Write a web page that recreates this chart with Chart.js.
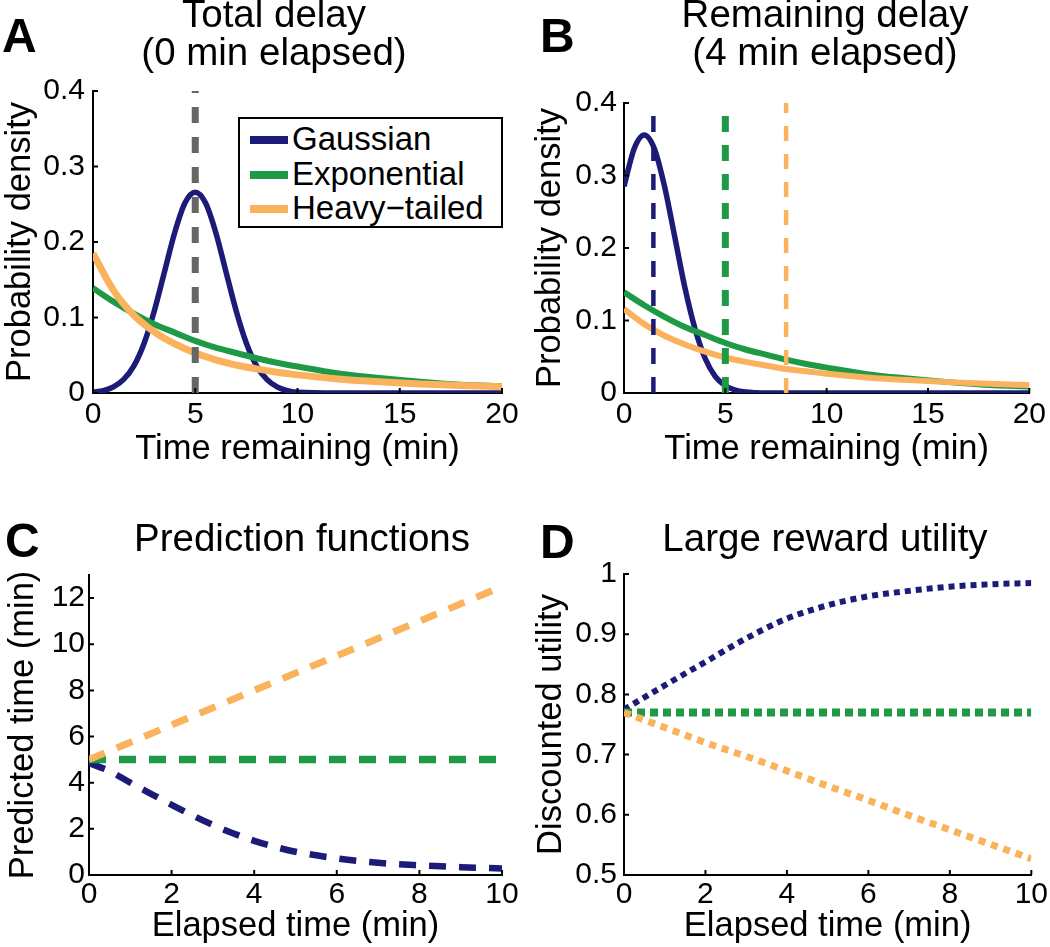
<!DOCTYPE html>
<html lang="en">
<head>
<meta charset="UTF-8">
<title>Delay distributions</title>
<script src="https://cdn.jsdelivr.net/npm/chart.js"></script>
<style>
  * { box-sizing: border-box; margin: 0; padding: 0; }
  body { background: #fff; font-family: 'Liberation Sans', Arial, sans-serif; color: #000; }
  .fig { position: relative; width: 1050px; height: 947px; overflow: hidden; }
  canvas { position: absolute; }
  .letter { position: absolute; font-weight: bold; font-size: 48px; line-height: 48px; }
  .title { position: absolute; width: 440px; text-align: center; font-size: 38.5px; line-height: 38px; white-space: nowrap; }
  .legend { position: absolute; left: 238px; top: 117px; width: 265px; height: 111px; border: 2px solid #000; background: #fff; }
  .legend .sw { position: absolute; left: 10px; width: 38px; height: 8px; }
  .legend .lb { position: absolute; left: 52px; font-size: 33px; line-height: 32px; white-space: nowrap; }
</style>
</head>
<body>
<div class="fig">
  <canvas id="chartA" width="525" height="470" style="left:0;top:0"></canvas>
  <canvas id="chartB" width="525" height="470" style="left:525px;top:0"></canvas>
  <canvas id="chartC" width="525" height="477" style="left:0;top:470px"></canvas>
  <canvas id="chartD" width="525" height="477" style="left:525px;top:470px"></canvas>

  <div class="letter" style="left:2px;top:12px">A</div>
  <div class="letter" style="left:540px;top:12px">B</div>
  <div class="letter" style="left:5px;top:517px">C</div>
  <div class="letter" style="left:540px;top:518px">D</div>

  <div class="title" style="left:54px;top:-5px">Total delay<br>(0 min elapsed)</div>
  <div class="title" style="left:605px;top:-5px">Remaining delay<br>(4 min elapsed)</div>
  <div class="title" style="left:82px;top:519px">Prediction functions</div>
  <div class="title" style="left:605px;top:519px">Large reward utility</div>

  <div class="legend" id="legendA"></div>
</div>
<script>
// ---- data ----
const names = ['Gaussian', 'Exponential', 'Heavy−tailed'];
const colors = ['#1c1c78', '#1e9a46', '#fbb25c'];
const grey = '#666666';

// panel A: total delay densities
const timeGaussA = [0,0.5,1,1.5,2,2.5,3,3.5,4,4.5,5,5.5,6,6.5,7,7.5,8,8.5,9,9.5,10,12,14,16,18,20];
const gaussA = [0.001,0.003,0.008,0.018,0.036,0.066,0.109,0.161,0.213,0.252,0.266,0.252,0.213,0.161,0.109,0.066,0.036,0.018,0.008,0.003,0.001,0,0,0,0,0];
const timeTail = [0,1,2,3,4,5,6,7,8,9,10,12,14,16,18,20];
const expoA = [0.139,0.121,0.105,0.091,0.080,0.069,0.060,0.053,0.046,0.040,0.035,0.026,0.020,0.015,0.011,0.009];
const heavyA = [0.185,0.136,0.103,0.081,0.065,0.053,0.044,0.037,0.032,0.0275,0.024,0.0186,0.0148,0.012,0.010,0.0083];
const medianA = 5;

// panel B: remaining delay densities after 4 min
const timeGaussB = [0,0.5,1,1.5,2,2.5,3,3.5,4,4.5,5,5.5,6,6.5,7,10,15,20];
const gaussB = [0.285,0.337,0.356,0.337,0.285,0.216,0.146,0.089,0.048,0.023,0.010,0.004,0.0014,0.0004,0,0,0,0];
const expoB = [0.139,0.121,0.105,0.091,0.080,0.069,0.060,0.053,0.046,0.040,0.035,0.026,0.020,0.015,0.011,0.009];
const heavyB = [0.116,0.095,0.079,0.067,0.057,0.049,0.043,0.038,0.033,0.030,0.0265,0.0215,0.0178,0.015,0.0127,0.0109];
const mediansB = [1.45, 5, 8];

// panel C: predicted remaining time vs elapsed time
const timeGaussC = [0,0.5,1,1.5,2,2.5,3,3.5,4,4.5,5,6,7,8,9,10];
const gaussC = [4.85,4.5,4.0,3.52,3.04,2.59,2.17,1.8,1.48,1.22,1.01,0.72,0.53,0.42,0.34,0.28];
const timeLine = [0, 10];
const expoC = [5, 5];
const heavyC = [5.0, 12.5];

// panel D: discounted utility vs elapsed time
const timeD = [0,1,2,3,4,5,6,7,8,9,10];
const gaussD = [0.775,0.815,0.854,0.893,0.926,0.948,0.963,0.972,0.979,0.983,0.985];
const expoD = [0.77,0.77,0.77,0.77,0.77,0.77,0.77,0.77,0.77,0.77,0.77];
const heavyD = [0.77,0.745,0.72,0.697,0.673,0.648,0.624,0.599,0.575,0.551,0.527];

// ticks
const xTicksAB = [0,5,10,15,20];
const yTicksAB = [0,0.1,0.2,0.3,0.4];
const xTicksCD = [0,2,4,6,8,10];
const yTicksC = [0,2,4,6,8,10,12];
const yTicksD = [0.5,0.6,0.7,0.8,0.9,1];

// ---- helpers ----
Chart.defaults.font.family = "'Liberation Sans', Arial, sans-serif";
Chart.defaults.color = '#000';

const pts = (xs, ys) => xs.map((x, i) => ({x: x, y: ys[i]}));

function curve(xs, ys, color, width, dash) {
  return {data: pts(xs, ys), borderColor: color, borderWidth: width, borderDash: dash || [],
    showLine: true, pointRadius: 0, cubicInterpolationMode: 'monotone', fill: false};
}
function vline(x, y0, y1, color, width, dash) {
  return {data: [{x: x, y: y0}, {x: x, y: y1}], borderColor: color, borderWidth: width, borderDash: dash,
    showLine: true, pointRadius: 0, tension: 0, fill: false};
}

// MATLAB style inward tick marks
const inwardTicks = {
  id: 'inwardTicks',
  afterDraw(chart) {
    const ctx = chart.ctx, xs = chart.scales.x, ys = chart.scales.y;
    ctx.save();
    ctx.strokeStyle = '#000';
    ctx.lineWidth = 2;
    ctx.beginPath();
    xs.ticks.forEach(t => { const p = xs.getPixelForValue(t.value); ctx.moveTo(p, xs.top); ctx.lineTo(p, xs.top - 5); });
    ys.ticks.forEach(t => { const p = ys.getPixelForValue(t.value); ctx.moveTo(ys.right, p); ctx.lineTo(ys.right + 5, p); });
    ctx.stroke();
    ctx.restore();
  }
};

function makeChart(id, cfg) {
  const axisFont = {size: 34.5};
  const tickFont = {size: 30};
  return new Chart(document.getElementById(id), {
    type: 'scatter',
    data: {datasets: cfg.datasets},
    options: {
      responsive: false,
      animation: false,
      devicePixelRatio: 1,
      layout: {padding: {left: 0, top: cfg.top, right: cfg.right, bottom: 0}},
      plugins: {legend: {display: false}, tooltip: {enabled: false}},
      scales: {
        x: {
          type: 'linear', min: cfg.xTicks[0], max: cfg.xTicks[cfg.xTicks.length - 1],
          afterBuildTicks: s => { s.ticks = cfg.xTicks.map(v => ({value: v})); },
          afterFit: s => { s.height = cfg.xH; },
          grid: {display: false, drawTicks: false},
          border: {display: true, color: '#000', width: 2},
          ticks: {font: tickFont, padding: cfg.xPad, maxRotation: 0, autoSkip: false, callback: v => String(v)},
          title: {display: true, text: cfg.xTitle, font: axisFont, padding: {top: 0, bottom: 0}}
        },
        y: {
          type: 'linear', min: cfg.yMin, max: cfg.yMax,
          afterBuildTicks: s => { s.ticks = cfg.yTicks.map(v => ({value: v})); },
          afterFit: s => { s.width = cfg.yW; },
          grid: {display: false, drawTicks: false},
          border: {display: true, color: '#000', width: 2},
          ticks: {font: tickFont, padding: cfg.yPad, autoSkip: false, callback: v => String(v)},
          title: {display: true, text: cfg.yTitle, font: axisFont, padding: {top: cfg.yTitlePad, bottom: 0}}
        }
      }
    },
    plugins: [inwardTicks]
  });
}

// ---- panel A ----
makeChart('chartA', {
  top: 91, right: 23, xH: 77, yW: 93, xPad: 4, yPad: 8, yTitlePad: 0,
  xTicks: xTicksAB, yTicks: yTicksAB, yMin: 0, yMax: 0.4,
  xTitle: 'Time remaining (min)', yTitle: 'Probability density',
  datasets: [
    vline(medianA, 0, 0.4, grey, 7, [16, 14]),
    curve(timeTail, heavyA, colors[2], 7),
    curve(timeTail, expoA, colors[1], 6),
    curve(timeGaussA, gaussA, colors[0], 5.5)
  ]
});

// ---- panel B ----
makeChart('chartB', {
  top: 103, right: 18, xH: 77, yW: 99, xPad: 4, yPad: 7, yTitlePad: 5,
  xTicks: xTicksAB, yTicks: yTicksAB, yMin: 0, yMax: 0.4,
  xTitle: 'Time remaining (min)', yTitle: 'Probability density',
  datasets: [
    vline(mediansB[0], 0, 0.4, colors[0], 4.5, [16, 13]),
    vline(mediansB[1], 0, 0.4, colors[1], 7, [16, 13]),
    vline(mediansB[2], 0, 0.4, colors[2], 4.5, [15, 13]),
    curve(timeTail, heavyB, colors[2], 6),
    curve(timeTail, expoB, colors[1], 6),
    curve(timeGaussB, gaussB, colors[0], 5.5)
  ]
});

// ---- panel C ----
makeChart('chartC', {
  top: 105, right: 23, xH: 72, yW: 89, xPad: 2, yPad: 4, yTitlePad: 3,
  xTicks: xTicksCD, yTicks: yTicksC, yMin: 0, yMax: 13,
  xTitle: 'Elapsed time (min)', yTitle: 'Predicted time (min)',
  datasets: [
    curve(timeLine, heavyC, colors[2], 7, [17, 13]),
    curve(timeLine, expoC, colors[1], 7.5, [17, 13]),
    curve(timeGaussC, gaussC, colors[0], 6.5, [17, 13])
  ]
});

// ---- panel D ----
makeChart('chartD', {
  top: 104, right: 18, xH: 72, yW: 99, xPad: 2, yPad: 7, yTitlePad: 6,
  xTicks: xTicksCD, yTicks: yTicksD, yMin: 0.5, yMax: 1,
  xTitle: 'Elapsed time (min)', yTitle: 'Discounted utility',
  datasets: [
    curve(timeD, heavyD, colors[2], 7, [7, 6]),
    curve(timeD, expoD, colors[1], 8, [8, 5]),
    curve(timeD, gaussD, colors[0], 6, [6, 5])
  ]
});

// ---- legend for panel A ----
const legendA = document.getElementById('legendA');
names.forEach((n, i) => {
  const sw = document.createElement('div');
  sw.className = 'sw';
  sw.style.top = (17 + i * 34.5) + 'px';
  sw.style.background = colors[i];
  const lb = document.createElement('div');
  lb.className = 'lb';
  lb.style.top = (4 + i * 34.5) + 'px';
  lb.textContent = n;
  legendA.appendChild(sw);
  legendA.appendChild(lb);
});
</script>
</body>
</html>
